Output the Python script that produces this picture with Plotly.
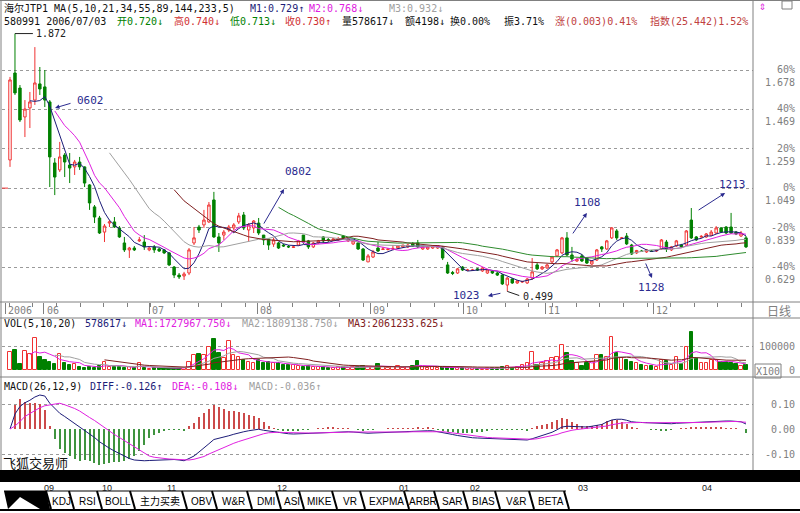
import plotly.graph_objects as go
import pandas as pd

# ---------------- data ----------------
opens = [1.199,1.662,1.582,1.428,1.476,1.518,1.604,1.588,1.508,1.183,
         1.146,1.225,1.172,1.162,1.188,1.162,1.066,0.949,0.890,0.815,
         0.863,0.869,0.837,0.757,0.720,0.730,0.768,0.762,0.720,0.736,
         0.725,0.720,0.704,0.629,0.586,0.581,0.597,0.757,0.842,0.853,
         0.869,0.986,0.789,0.799,0.826,0.837,0.869,0.906,0.826,0.837,
         0.863,0.799,0.778,0.751,0.757,0.746,0.738,0.733,0.746,0.799,
         0.768,0.736,0.757,0.789,0.775,0.773,0.773,0.794,0.768,0.752,
         0.757,0.725,0.656,0.682,0.730,0.722,0.722,0.725,0.730,0.736,
         0.736,0.752,0.757,0.725,0.725,0.730,0.730,0.736,0.640,0.600,
         0.597,0.629,0.611,0.611,0.619,0.608,0.597,0.608,0.597,0.586,
         0.533,0.565,0.544,0.549,0.544,0.570,0.640,0.619,0.624,0.656,
         0.688,0.704,0.784,0.693,0.661,0.688,0.677,0.645,0.666,0.736,
         0.725,0.784,0.821,0.781,0.794,0.746,0.704,0.714,0.709,0.714,
         0.714,0.725,0.762,0.720,0.741,0.746,0.746,0.879,0.789,0.789,
         0.789,0.799,0.810,0.837,0.842,0.842,0.815,0.794,0.784]
highs = [1.641,1.872,1.598,1.518,1.561,1.800,1.694,1.678,1.518,1.209,
         1.295,1.236,1.236,1.199,1.215,1.165,1.070,0.959,0.901,0.858,
         0.879,0.895,0.847,0.789,0.736,0.741,0.789,0.799,0.740,0.746,
         0.730,0.725,0.709,0.634,0.597,0.603,0.730,0.842,0.853,0.933,
         0.975,1.029,0.810,0.826,0.853,0.863,0.917,0.922,0.863,0.879,
         0.890,0.799,0.778,0.784,0.762,0.752,0.746,0.741,0.773,0.799,
         0.773,0.762,0.773,0.794,0.784,0.784,0.789,0.799,0.778,0.768,
         0.762,0.730,0.698,0.720,0.762,0.736,0.730,0.746,0.741,0.746,
         0.752,0.762,0.773,0.741,0.741,0.746,0.746,0.741,0.656,0.608,
         0.624,0.634,0.619,0.619,0.624,0.629,0.619,0.613,0.603,0.592,
         0.576,0.570,0.560,0.555,0.570,0.677,0.650,0.634,0.645,0.688,
         0.725,0.789,0.815,0.736,0.677,0.698,0.682,0.666,0.725,0.741,
         0.773,0.842,0.831,0.789,0.810,0.752,0.720,0.720,0.725,0.720,
         0.720,0.778,0.773,0.741,0.773,0.752,0.826,0.943,0.794,0.799,
         0.810,0.826,0.847,0.842,0.847,0.917,0.821,0.821,0.794]
lows = [1.162,1.545,1.401,1.321,1.369,1.492,1.545,1.481,1.055,1.012,
        1.135,1.108,1.076,1.119,1.146,1.055,0.933,0.863,0.805,0.762,
        0.842,0.837,0.784,0.709,0.677,0.714,0.762,0.720,0.713,0.704,
        0.709,0.698,0.634,0.570,0.565,0.560,0.586,0.746,0.810,0.837,
        0.863,0.784,0.709,0.773,0.815,0.826,0.858,0.826,0.762,0.810,
        0.799,0.746,0.720,0.736,0.725,0.736,0.730,0.730,0.741,0.752,
        0.725,0.730,0.752,0.757,0.762,0.768,0.768,0.773,0.762,0.746,
        0.720,0.661,0.656,0.677,0.709,0.720,0.717,0.720,0.725,0.730,
        0.730,0.736,0.730,0.720,0.720,0.725,0.725,0.666,0.592,0.586,
        0.592,0.608,0.608,0.608,0.608,0.603,0.592,0.592,0.581,0.533,
        0.499,0.539,0.539,0.544,0.539,0.560,0.613,0.613,0.619,0.650,
        0.682,0.698,0.688,0.656,0.656,0.656,0.645,0.640,0.661,0.709,
        0.720,0.778,0.773,0.778,0.746,0.693,0.698,0.709,0.704,0.709,
        0.709,0.720,0.709,0.714,0.736,0.730,0.741,0.778,0.768,0.784,
        0.784,0.794,0.805,0.810,0.805,0.805,0.799,0.789,0.730]
closes = [1.625,1.556,1.412,1.470,1.508,1.609,1.577,1.518,1.215,1.108,
          1.215,1.188,1.156,1.188,1.162,1.076,0.970,0.895,0.810,0.847,
          0.869,0.842,0.789,0.720,0.730,0.720,0.773,0.736,0.730,0.720,
          0.714,0.704,0.640,0.586,0.576,0.592,0.720,0.784,0.826,0.879,
          0.959,0.789,0.757,0.815,0.842,0.853,0.901,0.837,0.853,0.874,
          0.810,0.773,0.746,0.773,0.730,0.741,0.736,0.736,0.768,0.762,
          0.736,0.757,0.768,0.768,0.770,0.778,0.781,0.784,0.778,0.768,
          0.725,0.666,0.688,0.709,0.714,0.725,0.725,0.728,0.741,0.746,
          0.746,0.741,0.736,0.736,0.736,0.741,0.741,0.677,0.597,0.595,
          0.619,0.613,0.613,0.613,0.613,0.624,0.613,0.597,0.586,0.539,
          0.570,0.544,0.555,0.552,0.565,0.603,0.619,0.629,0.640,0.682,
          0.720,0.784,0.693,0.672,0.669,0.661,0.650,0.661,0.720,0.725,
          0.768,0.837,0.784,0.784,0.752,0.698,0.717,0.712,0.720,0.712,
          0.717,0.773,0.725,0.736,0.768,0.736,0.821,0.784,0.773,0.792,
          0.805,0.815,0.837,0.815,0.810,0.810,0.805,0.810,0.736]
volumes = [75000,83000,25000,79000,67000,133000,56000,43000,36000,25000,
           67000,29000,22000,25000,15000,11000,14000,11000,19000,36000,
           15000,15000,14000,11000,15000,11000,29000,11000,5786,8000,
           8000,11000,11000,8000,8000,11000,36000,64000,67000,64000,
           99000,129000,71000,50000,122000,64000,57000,43000,36000,29000,
           43000,29000,36000,29000,29000,22000,22000,22000,19000,15000,
           19000,15000,12000,14000,11000,11000,12000,14000,11000,12000,
           15000,19000,14000,15000,25000,12000,11000,15000,19000,11000,
           15000,19000,39000,15000,11000,12000,11000,15000,14000,11000,
           11000,8000,8000,8000,6000,6000,8000,8000,11000,15000,
           18000,8000,15000,22000,29000,75000,22000,29000,39000,50000,
           57000,105000,74000,39000,29000,19000,29000,36000,64000,64000,
           57000,137000,71000,50000,43000,36000,29000,22000,19000,19000,
           15000,43000,39000,22000,57000,25000,99000,158000,50000,29000,
           29000,43000,43000,36000,36000,29000,25000,19000,22000]
# MACD lines
diff_vals = [0.000,0.060,0.090,0.105,0.115,0.128,0.136,0.132,0.103,0.083,
             0.063,0.050,0.036,0.022,0.009,-0.004,-0.017,-0.034,-0.051,-0.065,
             -0.077,-0.088,-0.099,-0.110,-0.118,-0.124,-0.126,-0.127,-0.126,-0.125,
             -0.123,-0.122,-0.121,-0.122,-0.124,-0.127,-0.118,-0.108,-0.092,-0.077,
             -0.059,-0.042,-0.038,-0.033,-0.027,-0.021,-0.015,-0.011,-0.007,-0.003,
             -0.001,-0.005,-0.008,-0.011,-0.015,-0.017,-0.019,-0.020,-0.019,-0.018,
             -0.017,-0.016,-0.015,-0.014,-0.012,-0.011,-0.011,-0.011,-0.011,-0.012,
             -0.014,-0.017,-0.017,-0.016,-0.015,-0.015,-0.014,-0.013,-0.012,-0.011,
             -0.010,-0.009,-0.008,-0.008,-0.007,-0.007,-0.010,-0.014,-0.019,-0.022,
             -0.026,-0.030,-0.033,-0.035,-0.036,-0.037,-0.037,-0.037,-0.037,-0.038,
             -0.040,-0.041,-0.042,-0.043,-0.044,-0.039,-0.033,-0.027,-0.021,-0.013,
             -0.003,0.008,0.011,0.010,0.008,0.007,0.008,0.011,0.014,0.018,
             0.028,0.036,0.039,0.039,0.035,0.029,0.027,0.026,0.025,0.024,
             0.022,0.021,0.020,0.021,0.023,0.024,0.026,0.028,0.028,0.029,
             0.030,0.031,0.033,0.033,0.032,0.032,0.031,0.029,0.020]
dea_vals = [0.000,0.012,0.030,0.050,0.062,0.075,0.085,0.093,0.097,0.102,
            0.103,0.097,0.090,0.082,0.072,0.058,0.046,0.034,0.020,0.004,
            -0.010,-0.022,-0.034,-0.046,-0.058,-0.070,-0.082,-0.095,-0.108,-0.113,
            -0.116,-0.118,-0.120,-0.121,-0.122,-0.124,-0.124,-0.121,-0.117,-0.110,
            -0.100,-0.091,-0.082,-0.073,-0.064,-0.057,-0.050,-0.044,-0.036,-0.029,
            -0.024,-0.019,-0.015,-0.013,-0.013,-0.014,-0.015,-0.016,-0.016,-0.016,
            -0.016,-0.016,-0.016,-0.015,-0.015,-0.014,-0.013,-0.013,-0.012,-0.012,
            -0.013,-0.014,-0.015,-0.015,-0.015,-0.015,-0.015,-0.014,-0.014,-0.013,
            -0.012,-0.011,-0.011,-0.010,-0.010,-0.009,-0.009,-0.011,-0.013,-0.016,
            -0.019,-0.022,-0.025,-0.028,-0.030,-0.032,-0.034,-0.035,-0.036,-0.037,
            -0.038,-0.039,-0.040,-0.041,-0.041,-0.041,-0.039,-0.035,-0.031,-0.027,
            -0.022,-0.015,-0.009,-0.005,-0.002,0.000,0.002,0.004,0.006,0.008,
            0.012,0.017,0.021,0.024,0.025,0.026,0.026,0.026,0.025,0.025,
            0.024,0.024,0.023,0.023,0.023,0.023,0.024,0.025,0.025,0.026,
            0.027,0.028,0.029,0.030,0.030,0.030,0.030,0.029,0.027]

ma_periods = [5, 10, 21, 34, 55]
vol_ma_periods = [5, 10, 20]
month_labels = ["2006", "06", "07", "08", "09", "10", "11", "12"]
month_pos = [-1.0, 6.8, 28.0, 49.7, 72.4, 91.1, 107.6, 129.3]
price_ticks = [0.629, 0.839, 1.049, 1.259, 1.469, 1.678]
price_pct = ["-40%", "-20%", "0%", "20%", "40%", "60%"]
vol_ticks = [0, 100000]
vol_tick_text = ["0", "100000"]
macd_ticks = [-0.10, 0.0, 0.10]
macd_tick_text = ["-0.10", "0.00", "0.10"]
scroll_labels = ["09", "10", "11", "12", "01", "02", "03", "04"]
tab_labels = ["KDJ", "RSI", "BOLL", "主力买卖", "OBV", "W&R", "DMI", "ASI", "MIKE",
              "VR", "EXPMA", "ARBR", "SAR", "BIAS", "V&R", "BETA"]

# ---------------- styling ----------------
RED = "#f03232"
GREEN = "#008000"
NAVY = "#1c1c78"
MAG = "#e020e0"
GRAY = "#a0a0a0"
BROWN = "#802020"
MA_COLORS = [NAVY, MAG, GRAY, BROWN, "#2e8b2e"]
VMA_COLORS = [MAG, GRAY, BROWN]
HRED = "#cc4a4a"
HGREEN = "#3f943f"
AXC = "#808080"
LBL = "#2b2b8f"
MONO = "DejaVu Sans Mono, Noto Sans CJK SC, monospace"
CJK = "Noto Sans CJK SC, sans-serif"

W, H = 800, 513
ML, MR = 2, 47
PW = W - ML - MR


def PX(x):
    return (x - ML) / PW


def PY(y):
    return 1 - y / H


n = len(closes)
idx = list(range(n))
cs = pd.Series(closes)
vs = pd.Series(volumes)
hist = [2 * (d - e) for d, e in zip(diff_vals, dea_vals)]
up = [c >= o for o, c in zip(opens, closes)]

fig = go.Figure()
fig.add_trace(go.Candlestick(
    x=idx, open=opens, high=highs, low=lows, close=closes,
    increasing=dict(line=dict(color=RED, width=1), fillcolor="white"),
    decreasing=dict(line=dict(color=GREEN, width=1), fillcolor=GREEN),
    whiskerwidth=0, xaxis="x", yaxis="y", showlegend=False))
for p, col in zip(ma_periods, MA_COLORS):
    fig.add_trace(go.Scatter(x=idx, y=cs.rolling(p).mean(), mode="lines",
                             line=dict(color=col, width=1), xaxis="x", yaxis="y",
                             showlegend=False, hoverinfo="skip"))

fig.add_trace(go.Bar(
    x=idx, y=volumes, width=0.68,
    marker=dict(color=["white" if u else GREEN for u in up],
                line=dict(color=[RED if u else GREEN for u in up], width=1)),
    xaxis="x2", yaxis="y2", showlegend=False))
for p, col in zip(vol_ma_periods, VMA_COLORS):
    fig.add_trace(go.Scatter(x=idx, y=vs.rolling(p).mean(), mode="lines",
                             line=dict(color=col, width=1), xaxis="x2", yaxis="y2",
                             showlegend=False, hoverinfo="skip"))

fig.add_trace(go.Bar(
    x=idx, y=hist, width=0.22,
    marker=dict(color=[HRED if h >= 0 else HGREEN for h in hist], line=dict(width=0)),
    xaxis="x3", yaxis="y3", showlegend=False))
fig.add_trace(go.Scatter(x=idx, y=diff_vals, mode="lines", line=dict(color=NAVY, width=1),
                         xaxis="x3", yaxis="y3", showlegend=False))
fig.add_trace(go.Scatter(x=idx, y=dea_vals, mode="lines", line=dict(color=MAG, width=1),
                         xaxis="x3", yaxis="y3", showlegend=False))

X0 = (ML - 10) / 4.973
X1 = (753 - 10) / 4.973
xcommon = dict(range=[X0, X1], showgrid=False, zeroline=False, showticklabels=False,
               fixedrange=True)
grid = dict(showgrid=True, griddash="dot", gridcolor="#9a9a9a", gridwidth=1,
            zeroline=False, showticklabels=False, side="right", fixedrange=True)

fig.update_layout(
    width=W, height=H, margin=dict(l=ML, r=MR, t=0, b=0),
    paper_bgcolor="white", plot_bgcolor="white", showlegend=False,
    bargap=0,
    xaxis=dict(**xcommon, anchor="y", rangeslider=dict(visible=False),
               tickmode="array", tickvals=month_pos, ticks="outside", ticklen=11,
               tickcolor=AXC,
               minor=dict(tickmode="linear", tick0=14.1, dtick=4.75, ticks="outside",
                          ticklen=4, tickcolor=AXC, showgrid=False)),
    xaxis2=dict(**xcommon, anchor="y2", matches="x"),
    xaxis3=dict(**xcommon, anchor="y3", matches="x"),
    yaxis=dict(**grid, domain=[PY(302), PY(2)], range=[0.4426, 2.0401],
               tickvals=price_ticks),
    yaxis2=dict(**grid, domain=[PY(377), PY(318)], range=[-27900, 217900],
                tickvals=[vol_ticks[1]]),
    yaxis3=dict(**grid, domain=[PY(470), PY(377)], range=[-0.164, 0.208],
                tickvals=[macd_ticks[0], macd_ticks[2]]),
)

ann = []


def T(text, x, y, color="#000000", size=10, anchor="left", family=MONO):
    ann.append(dict(text=text, x=PX(x), y=PY(y), xref="paper", yref="paper",
                    xanchor=anchor, yanchor="middle", showarrow=False,
                    font=dict(color=color, size=size, family=family)))


# header rows
T("海尔JTP1 MA(5,10,21,34,55,89,144,233,5)", 2, 8, "#101010")
T("M1:0.729↑", 248, 8, NAVY)
T("M2:0.768↓", 307, 8, MAG)
T("M3:0.932↓", 387, 8, GRAY)
T("580991 2006/07/03", 2, 21, "#101010")
T("开0.720↓", 115, 21, GREEN)
T("高0.740↓", 172, 21, "#d03030")
T("低0.713↓", 228, 21, GREEN)
T("收0.730↑", 283, 21, "#d03030")
T("量578617↓", 340, 21, "#101010")
T("额4198↓", 403, 21, "#101010")
T("换0.00%", 448, 21, "#101010")
T("振3.71%", 502, 21, "#101010")
T("涨(0.003)0.41%", 553, 21, "#c04040")
T("指数(25.442)1.52%", 648, 21, "#c04040")
T("⇕", 757, 6, MAG, size=12)

# volume / macd headers
T("VOL(5,10,20)", 2, 323, "#101010")
T("578617↓", 83, 323, NAVY)
T("MA1:1727967.750↓", 133, 323, MAG)
T("MA2:1809138.750↓", 240, 323, GRAY)
T("MA3:2061233.625↓", 346, 323, BROWN)
T("MACD(26,12,9)", 2, 386, "#101010")
T("DIFF:-0.126↑", 88, 386, NAVY)
T("DEA:-0.108↓", 170, 386, MAG)
T("MACD:-0.036↑", 247, 386, GRAY)
T("飞狐交易师", 1, 462, "#101010", size=13, family=CJK)

# right-hand price scale
for v, pct in zip(price_ticks, price_pct):
    ann.append(dict(text=pct + "<br>" + f"{v:.3f}", x=PX(797), y=v, xref="paper",
                    yref="y", xanchor="right", yanchor="top", yshift=8,
                    showarrow=False, align="right",
                    font=dict(color=AXC, size=10, family=MONO)))
for v, t in zip(vol_ticks, vol_tick_text):
    ann.append(dict(text=t, x=PX(797), y=v, xref="paper", yref="y2", xanchor="right",
                    yanchor="middle", showarrow=False,
                    font=dict(color=AXC, size=10, family=MONO)))
for v, t in zip(macd_ticks, macd_tick_text):
    ann.append(dict(text=t, x=PX(797), y=v, xref="paper", yref="y3", xanchor="right",
                    yanchor="middle", showarrow=False,
                    font=dict(color=AXC, size=10, family=MONO)))
T("X100", 768, 371, AXC, anchor="center")
T("日线", 779, 310, AXC, size=12, anchor="center", family=CJK)

# date strip labels
for lab, pos in zip(month_labels, month_pos):
    ann.append(dict(text=lab, x=pos, y=PY(310), xref="x", yref="paper", xanchor="left",
                    yanchor="middle", xshift=1, showarrow=False,
                    font=dict(color=AXC, size=10, family=MONO)))

# extreme value labels
hi_i = highs.index(max(highs))
lo_i = lows.index(min(lows))
ann.append(dict(text=f"{max(highs):.3f}", x=hi_i + 3.8, y=max(highs), xref="x", yref="y",
                xanchor="left", yanchor="middle", showarrow=False,
                font=dict(color="#202020", size=10, family=MONO)))
ann.append(dict(text=f"{min(lows):.3f}", x=lo_i + 2.8, y=min(lows), xref="x", yref="y",
                xanchor="left", yanchor="middle", yshift=-5, showarrow=False,
                font=dict(color="#202020", size=10, family=MONO)))

# blue notes with arrows: (label, head idx, head price, ax, ay, label idx, label price, anchor)
notes = [("0602", 9.05, 1.476, 17, -5, 13.1, 1.518, "left"),
         ("0802", 55.1, 1.044, -21, 36, 54.9, 1.140, "left"),
         ("1023", 96.1, 0.4746, 14, -3, 94.9, 0.4746, "right"),
         ("1108", 116.0, 0.917, -15, 22, 113.0, 0.970, "left"),
         ("1128", 129.1, 0.5705, -7, -16, 125.9, 0.5225, "left"),
         ("1213", 143.8, 1.023, -28, 18, 142.2, 1.0657, "left")]
for lab, hx, hy, ax, ay, lx, ly, anc in notes:
    ann.append(dict(text="", x=hx, y=hy, xref="x", yref="y", ax=ax, ay=ay,
                    showarrow=True, arrowhead=2, arrowsize=0.9, arrowwidth=1,
                    arrowcolor=LBL))
    ann.append(dict(text=lab, x=lx, y=ly, xref="x", yref="y", xanchor=anc,
                    yanchor="middle", showarrow=False,
                    font=dict(color=LBL, size=11, family=MONO)))

# bottom scroll labels
for lab, xx in zip(scroll_labels, [42, 100, 165, 275, 397, 468, 576, 700]):
    T(lab, xx, 488, "#202020", size=9, family="Liberation Sans Narrow, Liberation Sans")

# tabs
bounds = [48, 71, 99, 132, 184, 214, 249, 278, 301, 334, 362, 406, 436, 465, 497, 531, 566]
for k, lab in enumerate(tab_labels):
    cx = (bounds[k] + bounds[k + 1]) / 2 + 2
    T(lab, cx, 501, "#000000", size=10, anchor="center",
      family="Liberation Sans, Noto Sans CJK SC")

fig.update_layout(annotations=ann)

shapes = []


def L(x0, y0, x1, y1, color=AXC, w=1):
    shapes.append(dict(type="line", xref="paper", yref="paper", x0=PX(x0), y0=PY(y0),
                       x1=PX(x1), y1=PY(y1), line=dict(color=color, width=w)))


# frame and panel dividers
L(1, 0, 1, 470)
L(0, 0.5, 800, 0.5)
L(753, 0, 753, 470)
L(0, 302, 800, 302)
L(0, 318, 800, 318)
L(0, 377, 800, 377)
shapes.append(dict(type="rect", xref="paper", yref="paper", x0=PX(782), y0=PY(9),
                   x1=PX(792), y1=PY(1), line=dict(color=AXC, width=1)))
shapes.append(dict(type="rect", xref="paper", yref="paper", x0=PX(755), y0=PY(378),
                   x1=PX(781), y1=PY(364), line=dict(color=AXC, width=1)))
shapes.append(dict(type="line", xref="paper", yref="y", x0=PX(2), x1=PX(8),
                   y0=price_ticks[2], y1=price_ticks[2], line=dict(color=RED, width=1)))
# black bar
shapes.append(dict(type="rect", xref="paper", yref="paper", x0=PX(0), y0=PY(482),
                   x1=PX(800), y1=PY(470), fillcolor="black", line=dict(width=0)))
# extreme value connectors
shapes.append(dict(type="line", xref="x", yref="y", x0=hi_i, y0=max(highs),
                   x1=hi_i + 3.6, y1=max(highs), line=dict(color="#202020", width=1)))
shapes.append(dict(type="line", xref="x", yref="y", x0=lo_i, y0=min(lows),
                   x1=lo_i + 2.4, y1=min(lows) - 0.022, line=dict(color="#202020", width=1)))
# tabs
L(0, 510, 800, 510, "#000000", 2)
L(4, 491, 566, 491, "#000000", 1)
shapes.append(dict(type="path", xref="paper", yref="paper",
                   path=f"M {PX(4)},{PY(491)} L {PX(46)},{PY(491)} L {PX(50)},{PY(509)} "
                        f"L {PX(40)},{PY(509)} L {PX(20)},{PY(497)} L {PX(8)},{PY(509)} Z",
                   fillcolor="black", line=dict(width=0)))
for b in bounds:
    L(b - 2, 491, b + 3, 509, "#000000", 2)

fig.update_layout(shapes=shapes)
fig.write_html("out.html", config={"displayModeBar": False},
               post_script="document.body.style.margin='0';"
                           "document.body.style.overflow='hidden';")
